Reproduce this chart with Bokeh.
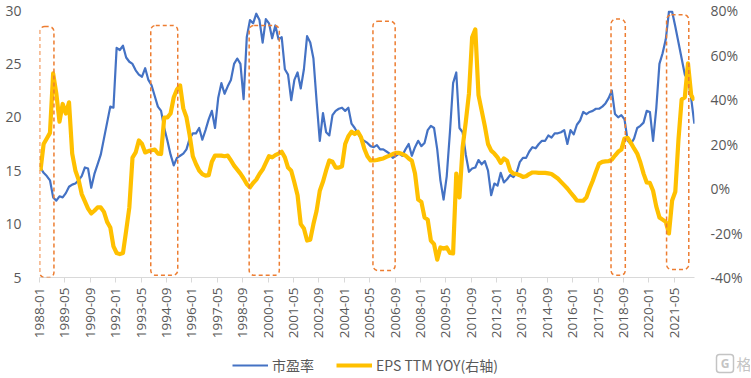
import pandas as pd
from bokeh.plotting import figure
from bokeh.layouts import column
from bokeh.models import (Range1d, LinearAxis, FixedTicker, BoxAnnotation, Legend,
                          LegendItem, NumeralTickFormatter, ColumnDataSource, Label)
from bokeh.embed import file_html
from bokeh.resources import INLINE
import math

# ---- data (bi-monthly samples) ----
dates = pd.date_range("1988-01-01", periods=207, freq="2MS")

pe = [15.3, 14.8, 14.5, 14.1, 12.5, 12.2, 12.6, 12.5, 12.9, 13.5,
      13.7, 13.8, 14.1, 14.5, 15.3, 15.2, 13.4, 14.7, 15.6, 16.5,
      18.0, 19.5, 21.0, 20.9, 26.5, 26.3, 26.7, 25.6, 25.2, 25.0,
      24.4, 24.0, 23.8, 24.6, 23.5, 23.0, 22.0, 21.0, 20.6, 19.0,
      17.8, 16.5, 15.5, 16.2, 16.4, 16.6, 17.0, 18.0, 18.5, 18.5,
      19.0, 17.9, 18.8, 19.8, 20.6, 19.0, 21.8, 23.2, 22.2, 22.9,
      23.5, 25.0, 25.5, 25.0, 21.7, 27.5, 29.1, 28.8, 29.7, 29.1,
      27.0, 29.2, 28.8, 27.4, 28.6, 27.3, 27.5, 24.5, 24.0, 21.6,
      23.5, 24.2, 22.7, 24.5, 27.6, 27.0, 25.5, 21.5, 17.8, 20.4,
      18.6, 18.3, 20.2, 20.6, 20.8, 20.9, 20.6, 20.9, 19.4, 19.0,
      18.5, 18.0, 17.8, 17.6, 17.3, 17.2, 17.4, 17.0, 17.0, 16.8,
      16.6, 16.2, 16.4, 16.6, 16.4, 17.0, 17.5, 16.4, 17.2, 17.8,
      17.3, 17.6, 18.8, 19.2, 19.0, 17.0, 14.1, 12.3, 14.5, 18.6,
      23.2, 24.2, 19.0, 18.6, 16.5, 14.9, 15.2, 15.3, 16.0, 15.6,
      15.9, 15.0, 12.7, 13.8, 13.6, 14.8, 13.9, 14.2, 14.6, 14.4,
      14.8, 15.8, 16.2, 16.2, 16.8, 17.2, 17.1, 17.5, 17.8, 17.8,
      18.3, 18.1, 18.5, 18.5, 18.6, 18.8, 17.5, 18.8, 18.4, 19.3,
      19.7, 20.5, 20.3, 20.5, 20.6, 20.8, 20.8, 21.0, 21.3, 21.8,
      22.5, 20.3, 20.0, 20.2, 19.8, 17.8, 17.5, 18.0, 19.0, 19.2,
      19.5, 20.6, 20.5, 17.8, 20.8, 25.0, 26.0, 27.3, 29.9, 29.9,
      28.5, 27.0, 25.5, 24.0, 23.5, 21.8, 19.4]

eps_yoy = [8, 20, 22.5, 25, 51.7, 42.7, 30, 38, 33.7, 38.7,
           15.7, 8.1, 4, -2.5, -5.8, -9, -11.2, -10, -8.5, -8.5,
           -10.5, -15, -17.5, -26, -29, -29.5, -29, -19, -8.5, 13.9,
           16.2, 21.6, 20, 16.2, 16.8, 17.2, 17.5, 15.7, 15.5, 31.9,
           32, 33.7, 41, 44.5, 46.3, 36, 32, 24, 14.5, 11,
           8.1, 6.5, 5.8, 6, 12, 14.8, 14.8, 14.8, 14.5, 14.8,
           12.6, 10.3, 8.5, 6.7, 4.5, 2, 0.5, 2.5, 4, 6.5,
           8.5, 11.5, 14.5, 14, 15, 15.7, 16.5, 14, 9.4, 8,
           2.7, -3, -16, -18, -23.4, -23, -16, -10, -1, 3,
           8.1, 12.6, 12, 9.4, 9.4, 10, 20, 23.5, 25.5, 24.5,
           25.5, 23, 18, 14.5, 12.6, 12.6, 12.8, 13.2, 13.5, 14.2,
           14.8, 15.5, 16, 16, 15.5, 14.8, 13.5, 12.5, 6.7, -5,
           -6, -13, -14, -23.4, -25, -32, -26.5, -27, -26.5, -29,
           -29.2, 6.7, -4, 18.4, 30, 42.7, 68, 71.5, 42, 35,
           28, 20, 17, 15.7, 14, 11.5, 13.5, 12.5, 8, 6.7,
           6.5, 6, 5.2, 5.5, 6.5, 7.2, 7.2, 7, 7, 7,
           6.8, 6.5, 5.5, 4.5, 3, 1.5, 0, -1.8, -3.5, -5.4,
           -5.5, -5.5, -4, 0, 3.5, 7.5, 11.2, 12, 12.2, 12.3,
           13, 14.8, 16.5, 17.5, 22.5, 22.8, 20.5, 18, 15.7, 11.7,
           6.7, 2.7, 2.5, -1, -8, -13, -14, -15, -20.2, -5.4,
           -1.5, 22, 40, 41, 56.2, 42, 39.6]

tick_labels = ["1988-01", "1989-05", "1990-09", "1992-01", "1993-05", "1994-09",
               "1996-01", "1997-05", "1998-09", "2000-01", "2001-05", "2002-09",
               "2004-01", "2005-05", "2006-09", "2008-01", "2009-05", "2010-09",
               "2012-01", "2013-05", "2014-09", "2016-01", "2017-05", "2018-09",
               "2020-01", "2021-05"]

series_names = ["市盈率", "EPS TTM YOY(右轴)"]

# highlighted periods (start month, end month)
periods = [("1988-01", "1988-09"), ("1993-11", "1995-03"), ("1999-01", "2000-07"),
           ("2005-07", "2006-08"), ("2018-01", "2018-09"), ("2020-12", "2022-01")]
period_tops = [28.5, 28.6, 28.6, 29.0, 29.2, 29.6]
period_bottoms = [5.0, 5.2, 5.2, 5.65, 5.2, 5.75]

BLUE = "#4472C4"
GOLD = "#FFC000"
ORANGE = "#ED7D31"
GREY = "#595959"
W_BLUE, W_GOLD = 2.2, 4.2


def midx(s):
    y, m = s.split("-")
    return (int(y) - 1988) * 12 + int(m) - 1


x = [(d.year - 1988) * 12 + d.month - 1 for d in dates]
src = ColumnDataSource(dict(x=x, pe=pe, eps=[v / 100 for v in eps_yoy]))

p = figure(frame_width=655, frame_height=267,
           x_range=Range1d(-0.6, 412.1), y_range=Range1d(5, 30),
           output_backend="svg", toolbar_location=None,
           min_border_left=39, min_border_right=56, min_border_top=10,
           min_border_bottom=0, outline_line_color=None)
p.extra_y_ranges = {"r": Range1d(-0.4, 0.8)}
p.xgrid.visible = False
p.ygrid.visible = False

# left axis
ya = p.yaxis[0]
ya.ticker = FixedTicker(ticks=[5, 10, 15, 20, 25, 30])
ya.axis_line_color = None
ya.major_tick_line_color = None
ya.minor_tick_line_color = None
ya.major_tick_out = 0
ya.major_tick_in = 0
ya.major_label_standoff = 18
ya.major_label_text_font = "Open Sans"
ya.major_label_text_font_size = "14px"
ya.major_label_text_color = GREY

ra = LinearAxis(y_range_name="r", ticker=FixedTicker(ticks=[-0.4, -0.2, 0, 0.2, 0.4, 0.6, 0.8]),
                formatter=NumeralTickFormatter(format="0%"))
ra.axis_line_color = None
ra.major_tick_line_color = None
ra.minor_tick_line_color = None
ra.major_tick_out = 0
ra.major_tick_in = 0
ra.major_label_standoff = 16
ra.major_label_text_font = "Open Sans"
ra.major_label_text_font_size = "14px"
ra.major_label_text_color = GREY
p.add_layout(ra, "right")

xa = p.xaxis[0]
xa.ticker = FixedTicker(ticks=[midx(t) - 0.6 for t in tick_labels])
xa.major_label_overrides = {midx(t) - 0.6: t for t in tick_labels}
xa.major_label_orientation = math.pi / 2
xa.axis_line_color = "#D9D9D9"
xa.major_tick_line_color = "#D9D9D9"
xa.major_tick_out = 5
xa.major_tick_in = 0
xa.minor_tick_line_color = None
xa.major_label_standoff = 5
xa.major_label_text_font = "Open Sans"
xa.major_label_text_font_size = "13.5px"
xa.major_label_text_color = GREY

for (s, e), t, b in zip(periods, period_tops, period_bottoms):
    p.add_layout(BoxAnnotation(left=midx(s) - 0.5, right=midx(e) + 0.5, top=t, bottom=b,
                               fill_alpha=0, line_color=ORANGE, line_alpha=1.0, line_width=1.5,
                               line_dash="4 3", border_radius=5))

p.line("x", "pe", source=src, color=BLUE, line_width=W_BLUE, line_join="round")
p.line("x", "eps", source=src, y_range_name="r", color=GOLD, line_width=W_GOLD,
       line_join="round")

# ---- legend strip below the chart ----
lg = figure(frame_width=750, frame_height=39, x_range=Range1d(0, 750), y_range=Range1d(0, 39),
            output_backend="svg", toolbar_location=None, x_axis_location=None,
            y_axis_location=None, min_border_left=0, min_border_right=0, min_border_top=0,
            min_border_bottom=0, outline_line_color=None)
lg.xgrid.visible = False
lg.ygrid.visible = False
# off-screen proxy renderers so the legend can draw its line swatches
d1 = lg.line(x=[-20, -10], y=[-20, -20], color=BLUE, line_width=W_BLUE)
d2 = lg.line(x=[-20, -10], y=[-20, -20], color=GOLD, line_width=W_GOLD)
legend = Legend(items=[LegendItem(label=series_names[0], renderers=[d1]),
                       LegendItem(label=series_names[1], renderers=[d2])],
                orientation="horizontal", location=(232, 5),
                glyph_width=36, glyph_height=18, label_standoff=4, spacing=22,
                padding=0, margin=0, border_line_color=None, background_fill_alpha=0,
                label_text_font="Noto Sans CJK SC", label_text_font_size="14px",
                label_text_color=GREY)
lg.add_layout(legend)

# watermark (x in screen pixels from the strip's left edge)
lg.add_layout(BoxAnnotation(left=677, right=694, left_units="screen", right_units="screen",
                            bottom=8, top=26, fill_alpha=0,
                            line_color="#C4C4C4", line_width=1.5, line_alpha=1.0,
                            border_radius=3))
lg.add_layout(Label(x=685.5, y=17, x_units="screen", text="G", text_font="Open Sans",
                    text_font_size="12px", text_color="#C4C4C4", text_align="center",
                    text_baseline="middle", text_font_style="bold"))
lg.add_layout(Label(x=697, y=17, x_units="screen", text="格隆汇", text_font="Noto Sans CJK SC",
                    text_font_size="15px", text_color="#C4C4C4", text_baseline="middle"))

open("out.html", "w").write(file_html(column(p, lg, spacing=0), INLINE))
